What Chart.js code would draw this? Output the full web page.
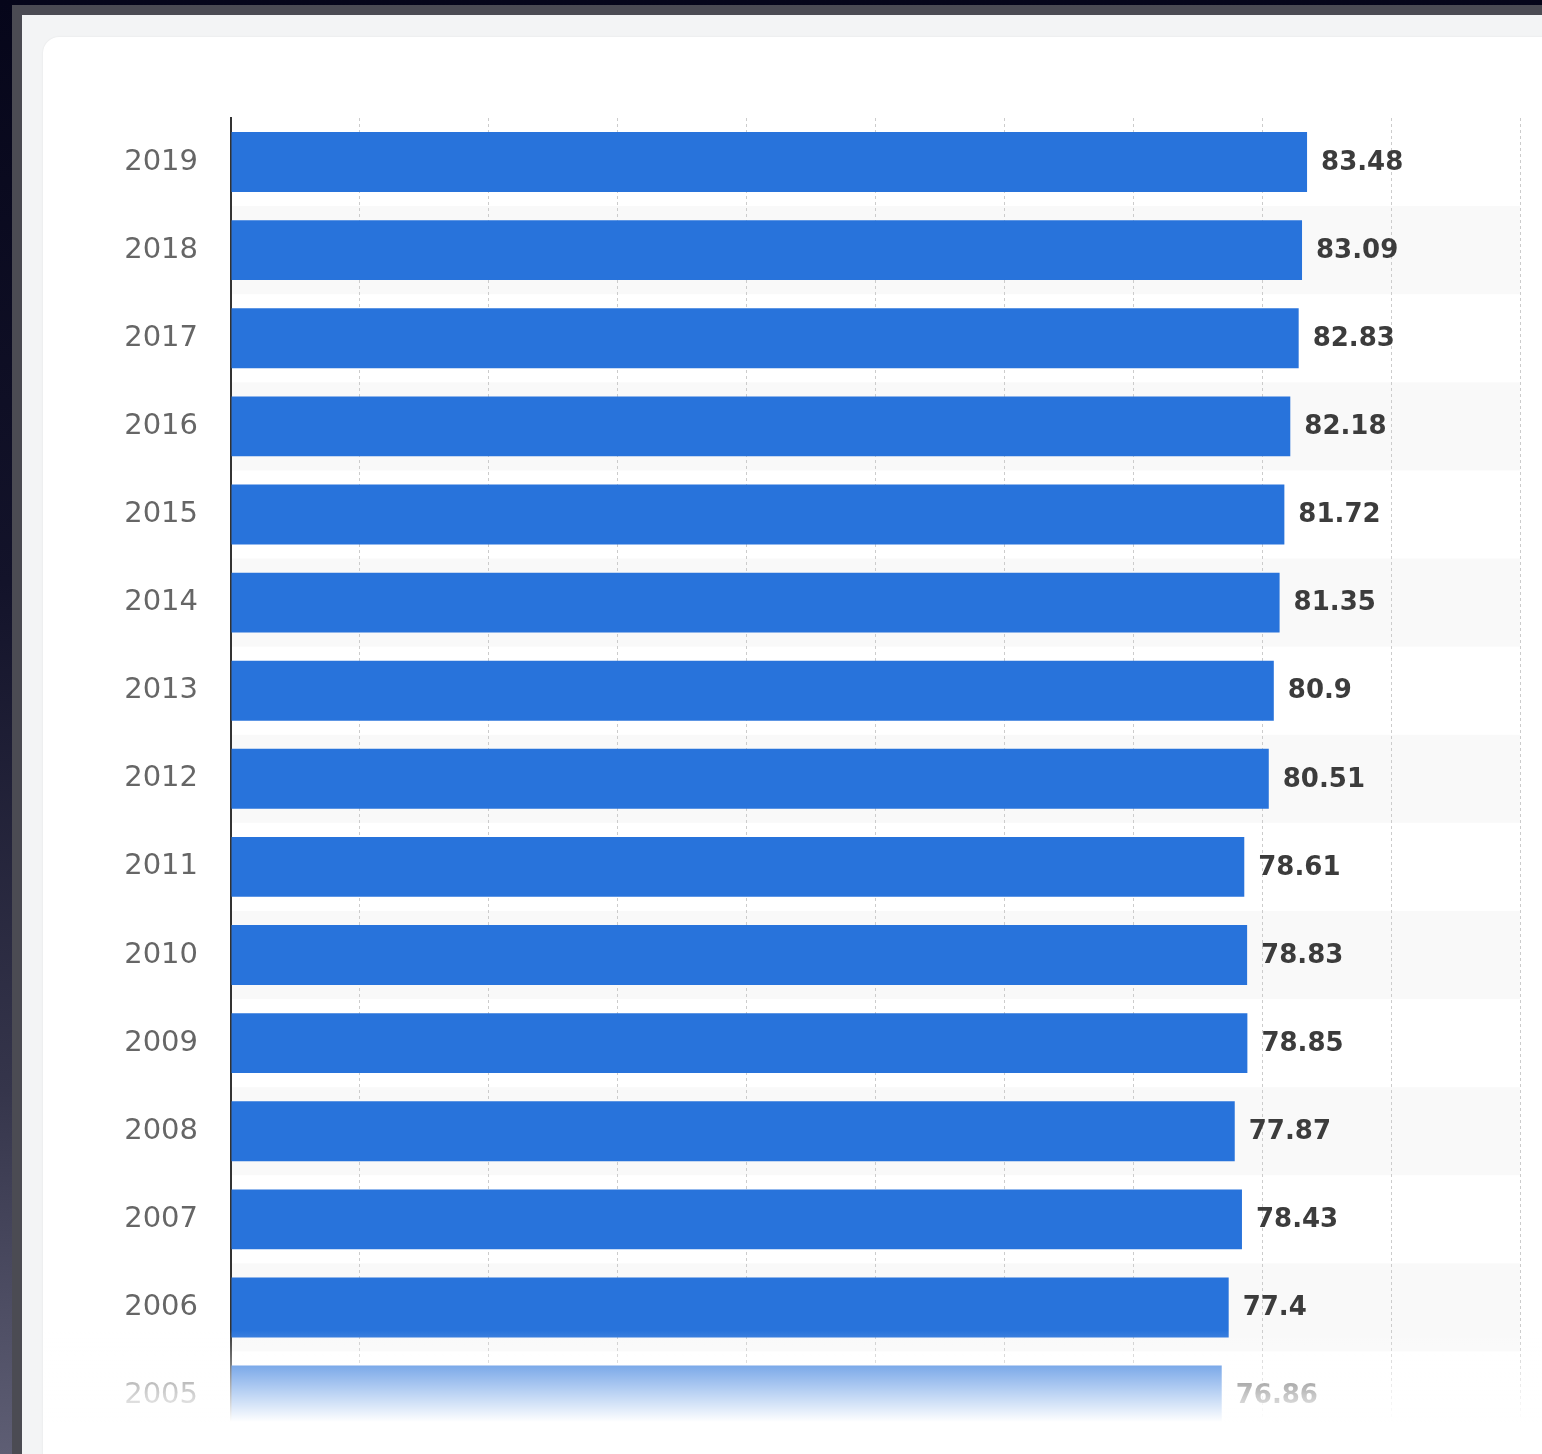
<!DOCTYPE html>
<html>
<head>
<meta charset="utf-8">
<script src="https://cdn.jsdelivr.net/npm/chart.js@4/dist/chart.umd.min.js"></script>
<style>
  html, body { margin: 0; padding: 0; }
  body {
    width: 1542px; height: 1454px; overflow: hidden; position: relative;
    background: linear-gradient(180deg, #06061a 0%, #13132a 40%, #35354b 75%, #5e5e74 100%);
  }
  .frame {
    position: absolute; left: 12px; top: 5px; right: 0; bottom: 0;
    box-sizing: border-box;
    border-left: 10px solid #4b4b53; border-top: 10px solid #4b4b53;
    background: #f3f4f5;
  }
  .card {
    position: absolute; left: 43px; top: 37px; width: 1530px; height: 1450px;
    background: #fff; border-radius: 16px;
    box-shadow: 0 0 2px rgba(0, 0, 0, 0.08);
  }
  canvas { position: absolute; left: 0; top: 0; }
</style>
</head>
<body>
<div class="frame"></div>
<div class="card"></div>
<!-- taller than the page: the bottom of the screenshot is cut off -->
<canvas id="chart" width="1542" height="1490"></canvas>
<script>
// data, top row first
const years = ['2019', '2018', '2017', '2016', '2015', '2014', '2013', '2012',
               '2011', '2010', '2009', '2008', '2007', '2006', '2005'];
const values = [83.48, 83.09, 82.83, 82.18, 81.72, 81.35, 80.9, 80.51,
                78.61, 78.83, 78.85, 77.87, 78.43, 77.4, 76.86];
const xTicks = [0, 10, 20, 30, 40, 50, 60, 70, 80, 90, 100];

const BAR_COLOR = '#2873db';
const FONT = '"DejaVu Sans", Verdana, sans-serif';

// light stripes behind every second row
const rowStripes = {
  id: 'rowStripes',
  beforeDraw(chart) {
    const { ctx, chartArea, scales } = chart;
    const y = scales.y;
    const band = (chartArea.bottom - chartArea.top) / years.length;
    ctx.save();
    ctx.fillStyle = '#f9f9f9';
    years.forEach((yr, i) => {
      if (i % 2 === 1) {
        const cy = y.getPixelForValue(i);
        ctx.fillRect(chartArea.left, cy - band / 2, chartArea.right - chartArea.left, band);
      }
    });
    ctx.restore();
  }
};

// value text at the end of each bar
const valueLabels = {
  id: 'valueLabels',
  afterDatasetsDraw(chart) {
    const { ctx } = chart;
    const meta = chart.getDatasetMeta(0);
    ctx.save();
    ctx.font = 'bold 26px ' + FONT;
    ctx.fillStyle = '#3c3c3c';
    ctx.textAlign = 'left';
    ctx.textBaseline = 'middle';
    meta.data.forEach((bar, i) => {
      ctx.fillText(String(values[i]), bar.x + 14, bar.y + 1);
    });
    ctx.restore();
  }
};

// white fade over the bottom row, like a cut-off screenshot
const bottomFade = {
  id: 'bottomFade',
  afterDraw(chart) {
    const { ctx } = chart;
    const top = 1330, bottom = 1422;
    const grad = ctx.createLinearGradient(0, top, 0, bottom);
    grad.addColorStop(0, 'rgba(255,255,255,0)');
    grad.addColorStop(1, 'rgba(255,255,255,1)');
    ctx.save();
    ctx.fillStyle = grad;
    ctx.fillRect(44, top, chart.width - 44, bottom - top);
    ctx.fillStyle = '#fff';
    ctx.fillRect(44, bottom, chart.width - 44, chart.height - bottom);
    ctx.restore();
  }
};

new Chart(document.getElementById('chart'), {
  type: 'bar',
  data: {
    labels: years,
    datasets: [{
      data: values,
      backgroundColor: BAR_COLOR,
      borderWidth: 0,
      barPercentage: 0.68,
      categoryPercentage: 1
    }]
  },
  options: {
    indexAxis: 'y',
    responsive: false,
    animation: false,
    layout: { padding: { top: 118, right: 22, bottom: 14, left: 0 } },
    plugins: {
      legend: { display: false },
      tooltip: { enabled: false }
    },
    scales: {
      x: {
        min: xTicks[0],
        max: xTicks[xTicks.length - 1],
        afterBuildTicks: (scale) => { scale.ticks = xTicks.map(v => ({ value: v })); },
        afterFit: (scale) => { scale.height = 0; },
        ticks: { display: false },
        grid: { color: '#cccccc', lineWidth: 1, drawTicks: false },
        border: { display: false, dash: [3, 3] }
      },
      y: {
        afterFit: (scale) => { scale.width = 231; },
        grid: { display: false, drawTicks: false },
        border: { display: true, color: '#333', width: 2 },
        ticks: {
          color: '#666',
          padding: 33,
          font: { family: FONT, size: 29 }
        }
      }
    }
  },
  plugins: [rowStripes, valueLabels, bottomFade]
});
</script>
</body>
</html>
